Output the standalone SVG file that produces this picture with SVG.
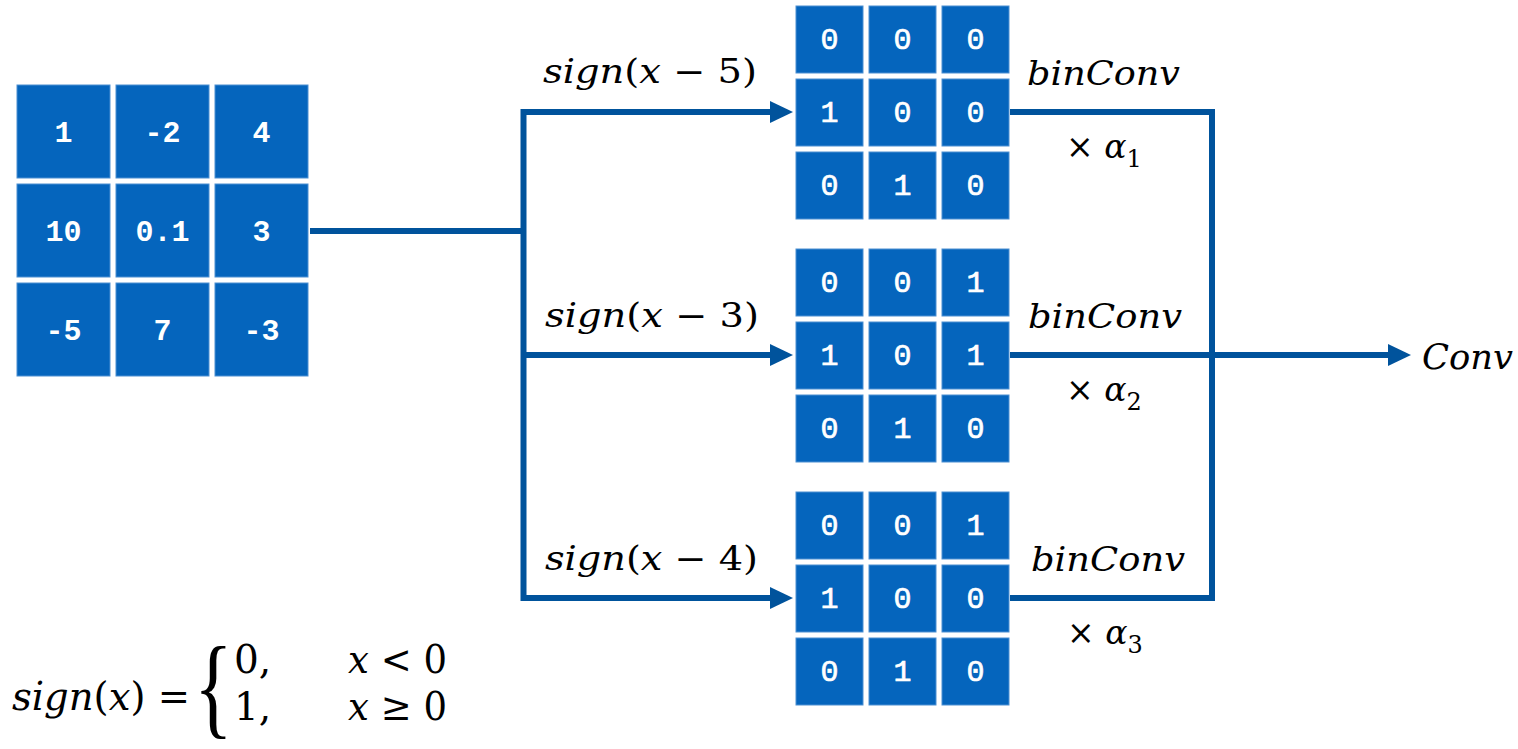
<svg xmlns="http://www.w3.org/2000/svg" width="1518" height="749" viewBox="0 0 1518 749">
<style>
.cell{fill:#0565BD;stroke:#4C90D2;stroke-width:1}
.big{font-family:"Liberation Mono","Courier New",monospace;font-weight:bold;font-size:30px;fill:#fff;text-anchor:middle}
.sm{font-family:"Liberation Mono","Courier New",monospace;font-size:30px;fill:#fff;stroke:#fff;stroke-width:0.7;text-anchor:middle}
.con{fill:none;stroke:#00539C;stroke-width:6;stroke-linejoin:miter}
.m{font-family:"DejaVu Serif","Liberation Serif",serif;fill:#000}
.i{font-style:italic}
</style>
<defs>
<marker id="ah" markerUnits="userSpaceOnUse" markerWidth="24" markerHeight="22" viewBox="0 0 24 22" refX="1" refY="11" orient="auto-start-reverse">
<path d="M0,0 L23,11 L0,22 z" fill="#00539C"/>
</marker>
</defs>

<g id="input">
<rect class="cell" x="17" y="85" width="93" height="93"/>
<rect class="cell" x="116" y="85" width="93" height="93"/>
<rect class="cell" x="215" y="85" width="93" height="93"/>
<rect class="cell" x="17" y="184" width="93" height="93"/>
<rect class="cell" x="116" y="184" width="93" height="93"/>
<rect class="cell" x="215" y="184" width="93" height="93"/>
<rect class="cell" x="17" y="283" width="93" height="93"/>
<rect class="cell" x="116" y="283" width="93" height="93"/>
<rect class="cell" x="215" y="283" width="93" height="93"/>
<text class="big" x="63.5" y="142">1</text>
<text class="big" x="162.5" y="142">-2</text>
<text class="big" x="261.5" y="142">4</text>
<text class="big" x="63.5" y="241">10</text>
<text class="big" x="162.5" y="241">0.1</text>
<text class="big" x="261.5" y="241">3</text>
<text class="big" x="63.5" y="340">-5</text>
<text class="big" x="162.5" y="340">7</text>
<text class="big" x="261.5" y="340">-3</text>
</g>

<g id="bin1">
<rect class="cell" x="796" y="6" width="67" height="67"/>
<rect class="cell" x="869" y="6" width="67" height="67"/>
<rect class="cell" x="942" y="6" width="67" height="67"/>
<rect class="cell" x="796" y="79" width="67" height="67"/>
<rect class="cell" x="869" y="79" width="67" height="67"/>
<rect class="cell" x="942" y="79" width="67" height="67"/>
<rect class="cell" x="796" y="152" width="67" height="67"/>
<rect class="cell" x="869" y="152" width="67" height="67"/>
<rect class="cell" x="942" y="152" width="67" height="67"/>
<text class="sm" x="829.5" y="49">0</text>
<text class="sm" x="902.5" y="49">0</text>
<text class="sm" x="975.5" y="49">0</text>
<text class="sm" x="829.5" y="122">1</text>
<text class="sm" x="902.5" y="122">0</text>
<text class="sm" x="975.5" y="122">0</text>
<text class="sm" x="829.5" y="195">0</text>
<text class="sm" x="902.5" y="195">1</text>
<text class="sm" x="975.5" y="195">0</text>
</g>

<g id="bin2">
<rect class="cell" x="796" y="249" width="67" height="67"/>
<rect class="cell" x="869" y="249" width="67" height="67"/>
<rect class="cell" x="942" y="249" width="67" height="67"/>
<rect class="cell" x="796" y="322" width="67" height="67"/>
<rect class="cell" x="869" y="322" width="67" height="67"/>
<rect class="cell" x="942" y="322" width="67" height="67"/>
<rect class="cell" x="796" y="395" width="67" height="67"/>
<rect class="cell" x="869" y="395" width="67" height="67"/>
<rect class="cell" x="942" y="395" width="67" height="67"/>
<text class="sm" x="829.5" y="292">0</text>
<text class="sm" x="902.5" y="292">0</text>
<text class="sm" x="975.5" y="292">1</text>
<text class="sm" x="829.5" y="365">1</text>
<text class="sm" x="902.5" y="365">0</text>
<text class="sm" x="975.5" y="365">1</text>
<text class="sm" x="829.5" y="438">0</text>
<text class="sm" x="902.5" y="438">1</text>
<text class="sm" x="975.5" y="438">0</text>
</g>

<g id="bin3">
<rect class="cell" x="796" y="492" width="67" height="67"/>
<rect class="cell" x="869" y="492" width="67" height="67"/>
<rect class="cell" x="942" y="492" width="67" height="67"/>
<rect class="cell" x="796" y="565" width="67" height="67"/>
<rect class="cell" x="869" y="565" width="67" height="67"/>
<rect class="cell" x="942" y="565" width="67" height="67"/>
<rect class="cell" x="796" y="638" width="67" height="67"/>
<rect class="cell" x="869" y="638" width="67" height="67"/>
<rect class="cell" x="942" y="638" width="67" height="67"/>
<text class="sm" x="829.5" y="535">0</text>
<text class="sm" x="902.5" y="535">0</text>
<text class="sm" x="975.5" y="535">1</text>
<text class="sm" x="829.5" y="608">1</text>
<text class="sm" x="902.5" y="608">0</text>
<text class="sm" x="975.5" y="608">0</text>
<text class="sm" x="829.5" y="681">0</text>
<text class="sm" x="902.5" y="681">1</text>
<text class="sm" x="975.5" y="681">0</text>
</g>

<g id="connectors">
<path class="con" d="M310,231 H523.5"/>
<path class="con" d="M771,112 H523.5 V598 H771" marker-start="url(#ah)" marker-end="url(#ah)"/>
<path class="con" d="M523.5,355 H771" marker-end="url(#ah)"/>
<path class="con" d="M1010,112 H1212 V598 H1010"/>
<path class="con" d="M1010,355 H1389" marker-end="url(#ah)"/>
</g>

<g id="labels">
<text class="m" x="543" y="83" font-size="33" textLength="214" lengthAdjust="spacingAndGlyphs"><tspan class="i">sign</tspan>(<tspan class="i">x</tspan> − 5)</text>
<text class="m" x="545" y="327" font-size="33" textLength="214" lengthAdjust="spacingAndGlyphs"><tspan class="i">sign</tspan>(<tspan class="i">x</tspan> − 3)</text>
<text class="m" x="545" y="570" font-size="33" textLength="213" lengthAdjust="spacingAndGlyphs"><tspan class="i">sign</tspan>(<tspan class="i">x</tspan> − 4)</text>

<text class="m i" x="1027" y="85" font-size="33" textLength="153" lengthAdjust="spacingAndGlyphs">binConv</text>
<text class="m i" x="1028" y="328" font-size="33" textLength="154" lengthAdjust="spacingAndGlyphs">binConv</text>
<text class="m i" x="1031" y="571" font-size="33" textLength="154" lengthAdjust="spacingAndGlyphs">binConv</text>

<text class="m" x="1066" y="158" font-size="33">× <tspan class="i">α</tspan><tspan font-size="24" dy="9">1</tspan></text>
<text class="m" x="1066" y="401" font-size="33">× <tspan class="i">α</tspan><tspan font-size="24" dy="9">2</tspan></text>
<text class="m" x="1067" y="644" font-size="33">× <tspan class="i">α</tspan><tspan font-size="24" dy="9">3</tspan></text>

<text class="m i" x="1422" y="369" font-size="36" textLength="91" lengthAdjust="spacingAndGlyphs">Conv</text>
</g>

<g id="formula">
<text class="m" x="12" y="710" font-size="39" textLength="178" lengthAdjust="spacingAndGlyphs"><tspan class="i">sign</tspan>(<tspan class="i">x</tspan>) =</text>
<text transform="translate(194,724) scale(0.72,1)" x="0" y="0" font-family="Liberation Serif, serif" font-size="112" fill="#000">{</text>
<text class="m" x="234" y="673" font-size="39">0,</text>
<text class="m" x="234" y="720" font-size="39">1,</text>
<text class="m" x="348" y="673" font-size="39" textLength="99" lengthAdjust="spacingAndGlyphs"><tspan class="i">x</tspan> &lt; 0</text>
<text class="m" x="348" y="720" font-size="39" textLength="99" lengthAdjust="spacingAndGlyphs"><tspan class="i">x</tspan> ≥ 0</text>
</g>
</svg>
